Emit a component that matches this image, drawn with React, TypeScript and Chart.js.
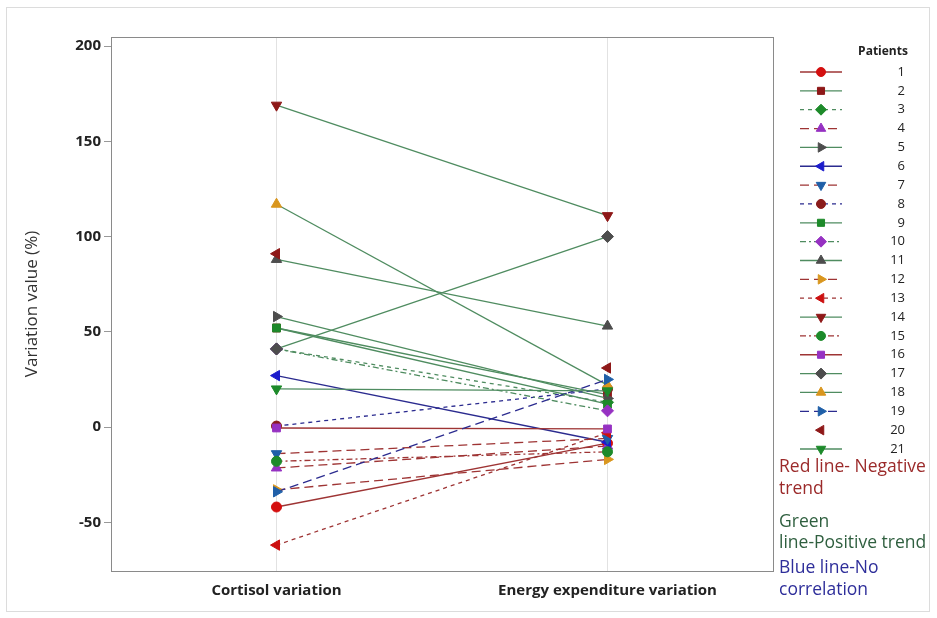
import React, { useEffect, useRef } from 'react';
import { Chart, registerables } from 'chart.js';
import { drawPoint } from 'chart.js/helpers';

Chart.register(...registerables);

const categories = ['Cortisol variation', 'Energy expenditure variation'];
const patients = ['1','2','3','4','5','6','7','8','9','10','11','12','13','14','15','16','17','18','19','20','21'];
const cortisolValues = [-42, 52, 41, -21.5, 58, 27, -14, 0.5, 52, 41, 88, -33, -62, 169, -18, -0.5, 41, 117, -34, 91, 20];
const energyValues = [-8.5, 17, 13, -10, 15, -8, -6, 20, 12, 8.5, 53, -17, -3, 111, -13, -1, 100, 22, 25, 31, 19];
const yTickValues = [-50, 0, 50, 100, 150, 200];

const RED = '#9e3434';
const GREEN = '#4f8c60';
const NAVY = '#2b2b8f';

// per-patient styles: [pointStyle, rotation, markerColor, lineColor, dash, showLine]
const styles: [string, number, string, string, number[], boolean][] = [
  ['circle', 0, '#d40f0f', RED, [], true],
  ['rect', 0, '#8e1818', GREEN, [], true],
  ['rectRot', 0, '#1d8a2a', GREEN, [4, 4], true],
  ['triangle', 0, '#9631c2', RED, [9, 5], true],
  ['triangle', 90, '#4d4d4d', GREEN, [], true],
  ['triangle', -90, '#1c1ccc', NAVY, [], true],
  ['triangle', 180, '#1f5fa8', RED, [9, 5], true],
  ['circle', 0, '#8a1c1c', NAVY, [4, 4], true],
  ['rect', 0, '#1d8a2a', GREEN, [], true],
  ['rectRot', 0, '#9631c2', GREEN, [6, 3, 2, 3], true],
  ['triangle', 0, '#4d4d4d', GREEN, [], true],
  ['triangle', 90, '#d9961e', RED, [9, 5], true],
  ['triangle', -90, '#cc1010', RED, [4, 4], true],
  ['triangle', 180, '#8e1818', GREEN, [], true],
  ['circle', 0, '#1d8a2a', RED, [6, 3, 2, 3], true],
  ['rect', 0, '#9631c2', RED, [], true],
  ['rectRot', 0, '#4d4d4d', GREEN, [], true],
  ['triangle', 0, '#d9961e', GREEN, [], true],
  ['triangle', 90, '#1f5fa8', NAVY, [9, 5], true],
  ['triangle', -90, '#8e1818', RED, [], false],
  ['triangle', 180, '#1d8a2a', GREEN, [], true],
];

const markerRadius = (ps: string) => (ps === 'circle' ? 5 : ps === 'rect' ? 5.5 : 6);

const customPlugin = {
  id: 'customDecor',
  afterDraw(chart: any) {
    const ctx = chart.ctx;
    const a = chart.chartArea;
    ctx.save();
    ctx.strokeStyle = '#8a8a8a';
    ctx.lineWidth = 1;
    ctx.strokeRect(Math.round(a.left) + 0.5, Math.round(a.top) + 0.5, Math.round(a.right - a.left), Math.round(a.bottom - a.top));

    // legend
    ctx.fillStyle = '#222';
    ctx.font = 'bold 12px "Open Sans", sans-serif';
    ctx.textAlign = 'center';
    ctx.textBaseline = 'middle';
    ctx.fillText('Patients', 883, 52);
    const startY = 72;
    const step = 18.85;
    chart.data.datasets.forEach((ds: any, i: number) => {
      const y = startY + i * step;
      if (ds.showLine !== false) {
        ctx.save();
        ctx.strokeStyle = ds.borderColor;
        ctx.lineWidth = 1.3;
        ctx.setLineDash(ds.borderDash || []);
        ctx.beginPath();
        ctx.moveTo(800, y);
        ctx.lineTo(842, y);
        ctx.stroke();
        ctx.restore();
      }
      ctx.save();
      ctx.fillStyle = ds.pointBackgroundColor;
      ctx.strokeStyle = ds.pointBorderColor;
      drawPoint(ctx, { pointStyle: ds.pointStyle, rotation: ds.pointRotation, radius: ds.pointRadius - 0.5, borderWidth: 1 }, 821, y);
      ctx.restore();
      ctx.fillStyle = '#222';
      ctx.font = '13px "Open Sans", sans-serif';
      ctx.textAlign = 'right';
      ctx.fillText(patients[i], 905, y);
    });
    ctx.restore();
  },
};

export default function App() {
  const ref = useRef<HTMLCanvasElement>(null);
  useEffect(() => {
    document.body.style.margin = '0';
    const datasets = patients.map((p, i) => {
      const [ps, rot, mc, lc, dash, show] = styles[i];
      return {
        label: p,
        order: patients.length - i,
        data: [
          { x: 0, y: cortisolValues[i] },
          { x: 1, y: energyValues[i] },
        ],
        showLine: show,
        borderColor: lc,
        borderWidth: 1.3,
        borderDash: dash,
        pointStyle: ps,
        pointRotation: rot,
        pointRadius: markerRadius(ps),
        pointBackgroundColor: mc,
        pointBorderColor: mc,
        pointBorderWidth: 1,
        fill: false,
      };
    });
    const chart = new Chart(ref.current as HTMLCanvasElement, {
      type: 'line',
      data: { datasets },
      options: {
        animation: false,
        responsive: false,
        devicePixelRatio: 1,
        layout: { padding: { top: 37, right: 164, bottom: 0, left: 0 } },
        plugins: { legend: { display: false }, tooltip: { enabled: false } },
        scales: {
          x: {
            type: 'linear',
            min: -0.5,
            max: 1.5,
            afterBuildTicks: (s: any) => { s.ticks = [{ value: 0 }, { value: 1 }]; },
            afterFit: (s: any) => { s.height = 47; },
            ticks: {
              callback: (v: any) => categories[v as number] ?? '',
              font: { family: '"Open Sans", sans-serif', size: 15, weight: 'bold' },
              color: '#222',
              maxRotation: 0,
              padding: 11,
            },
            grid: { color: '#e2e2e2', tickLength: 6, drawTicks: false },
            border: { display: false },
          },
          y: {
            type: 'linear',
            min: -75.6,
            max: 204.8,
            afterBuildTicks: (s: any) => { s.ticks = yTickValues.map((v) => ({ value: v })); },
            afterFit: (s: any) => { s.width = 111; },
            ticks: {
              font: { family: '"Open Sans", sans-serif', size: 15, weight: 'bold' },
              color: '#222',
              padding: 3,
            },
            grid: { drawOnChartArea: false, tickLength: 7, color: '#999' },
            border: { display: false },
            title: {
              display: true,
              text: 'Variation value (%)',
              font: { family: '"Open Sans", sans-serif', size: 17 },
              color: '#333',
              padding: { top: 22, bottom: 0 },
            },
          },
        },
      } as any,
      plugins: [customPlugin],
    });
    return () => chart.destroy();
  }, []);

  const note = (text: string, color: string, top: number) => (
    <div style={{ position: 'absolute', left: 779, top, color, font: '17.5px "Open Sans", sans-serif', lineHeight: '22px', whiteSpace: 'nowrap' }}>{text}</div>
  );

  return (
    <div style={{ position: 'absolute', left: 0, top: 0, width: 937, height: 618, background: '#fff' }}>
      <div style={{ position: 'absolute', left: 6, top: 7, width: 924, height: 605, border: '1px solid #dcdcdc', boxSizing: 'border-box' }} />
      <canvas ref={ref} width={937} height={618} style={{ position: 'absolute', left: 0, top: 0 }} />
      {note('Red line- Negative', '#9b2a2a', 454)}
      {note('trend', '#9b2a2a', 476)}
      {note('Green', '#2f5f3f', 509)}
      {note('line-Positive trend', '#2f5f3f', 530)}
      {note('Blue line-No', '#2e2e9a', 555)}
      {note('correlation', '#2e2e9a', 577)}
    </div>
  );
}
